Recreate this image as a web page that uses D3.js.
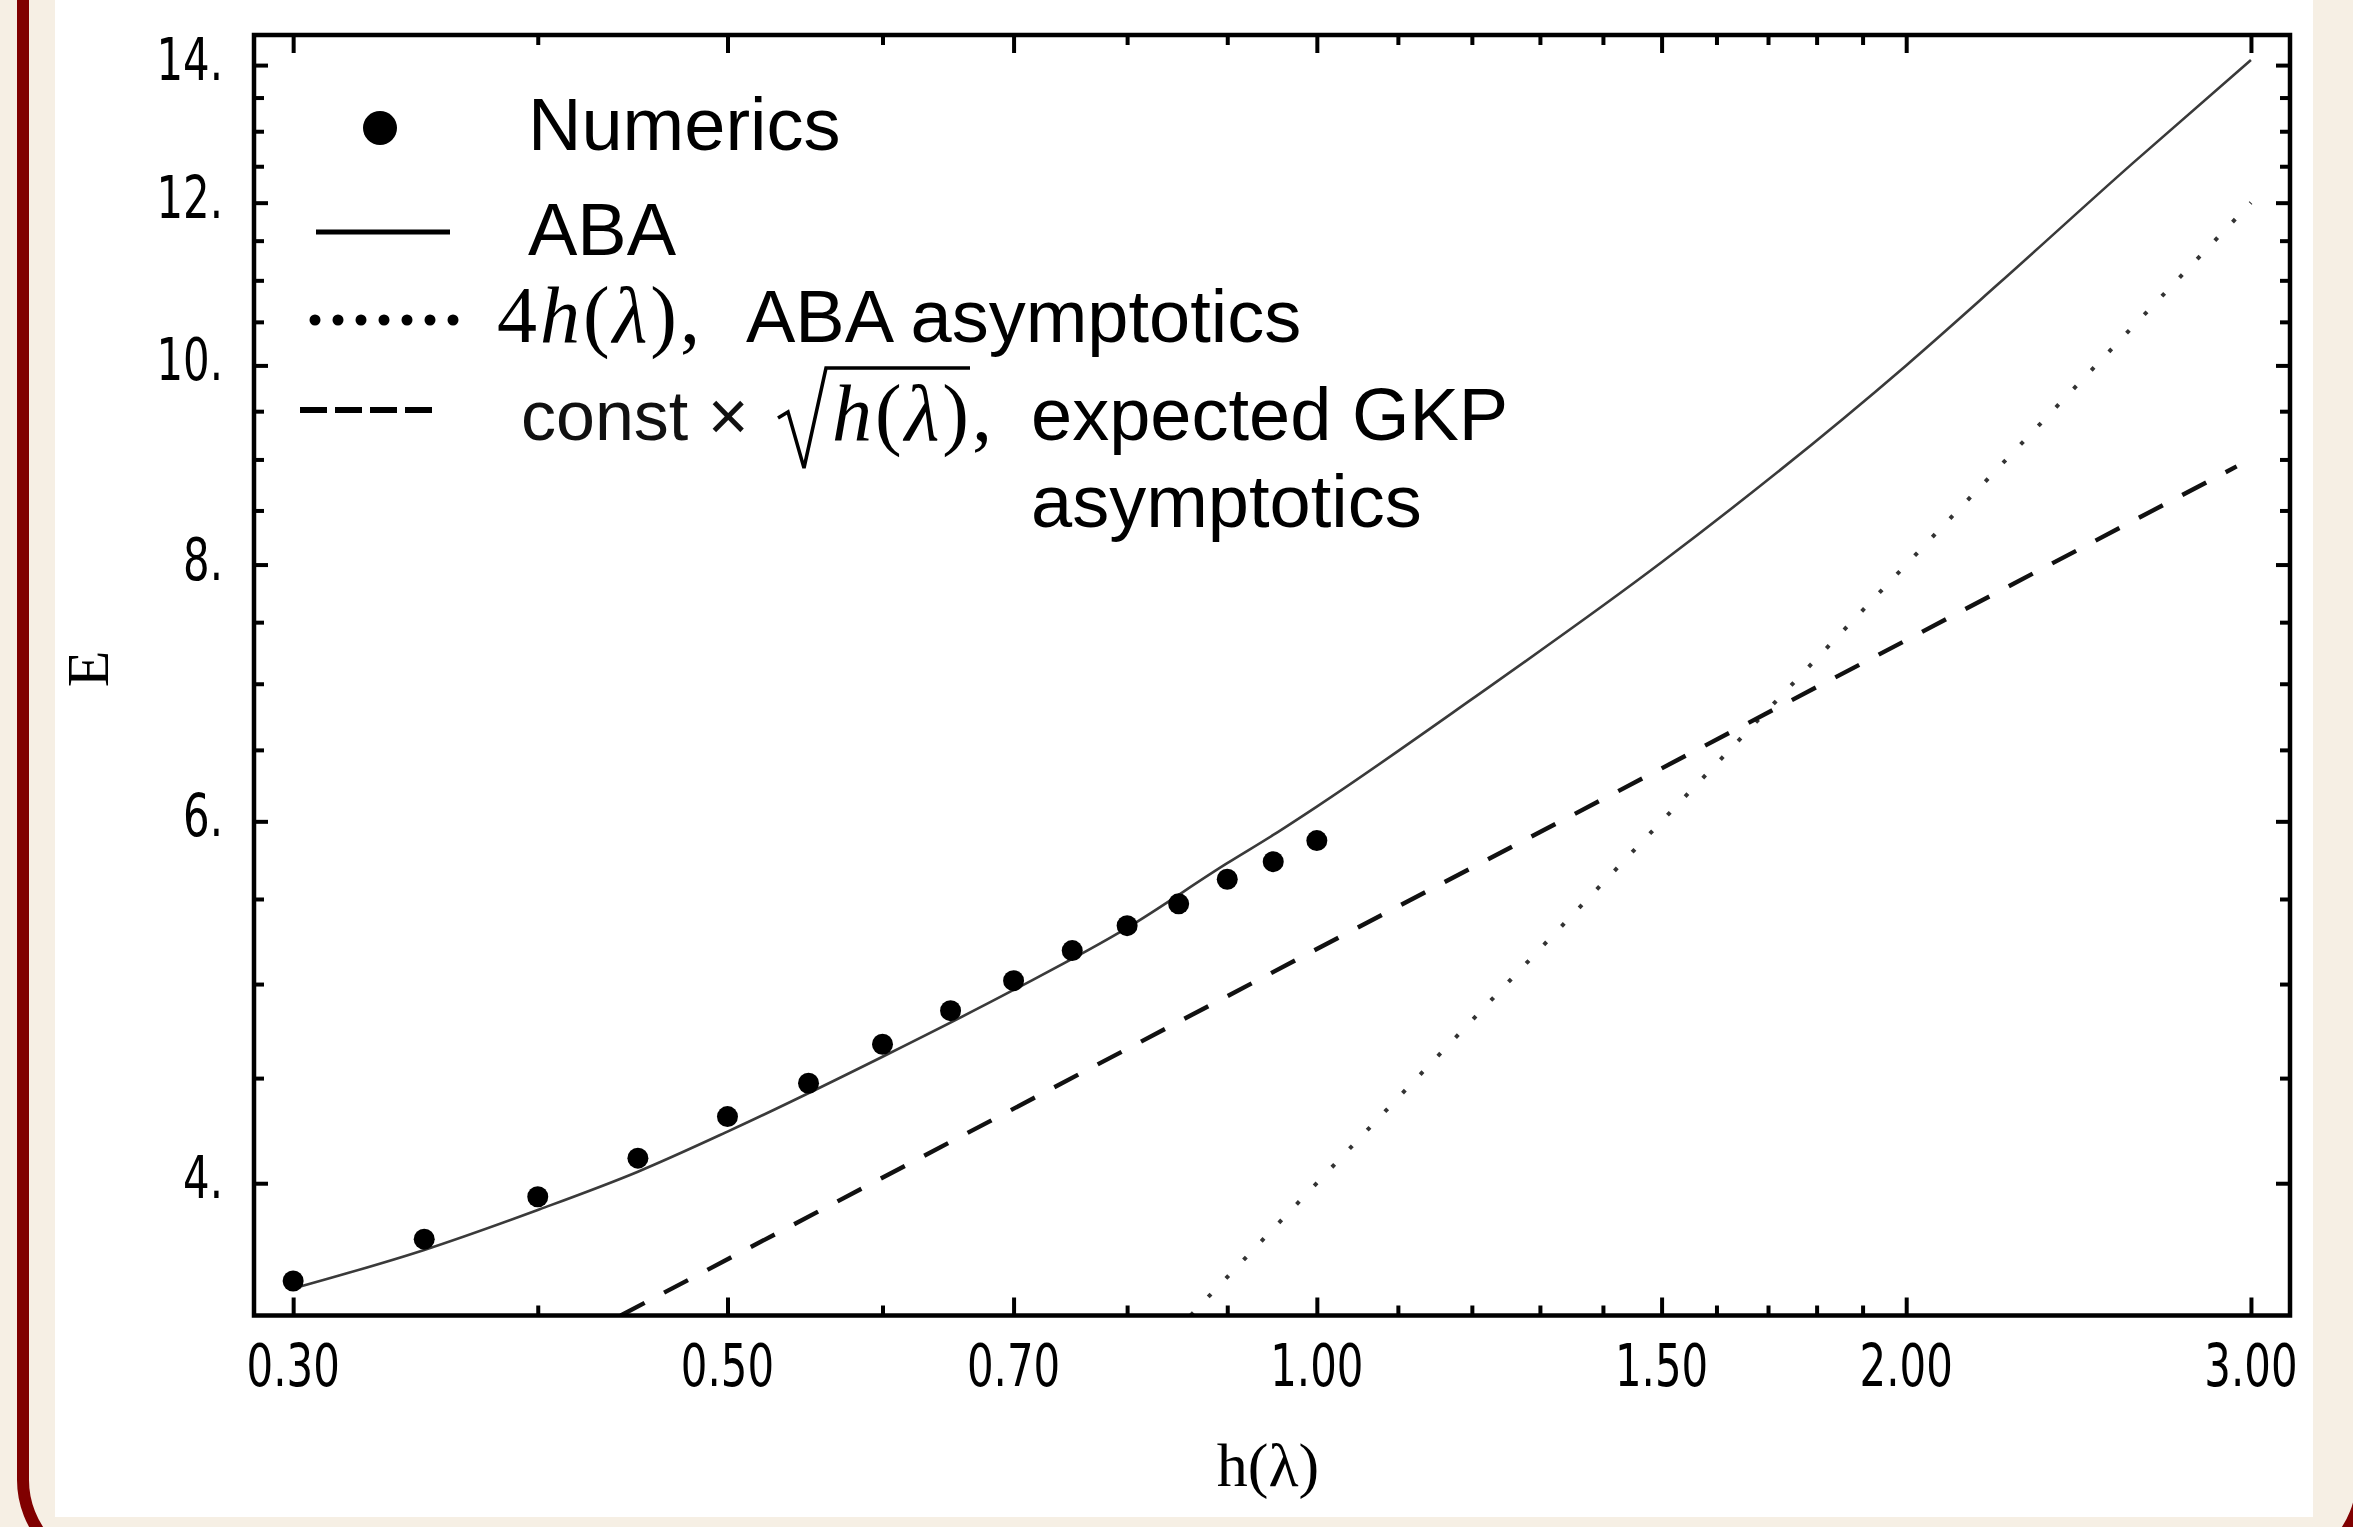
<!DOCTYPE html>
<html>
<head>
<meta charset="utf-8">
<script src="https://cdn.jsdelivr.net/npm/d3@7"></script>
<style>
  body { margin: 0; background: #f6efe4; }
  svg { display: block; }
</style>
</head>
<body>
<div id="chart"></div>
<script>
// numerics (dots)
var numericsX = [0.30, 0.35, 0.40, 0.45, 0.50, 0.55, 0.60, 0.65, 0.70, 0.75, 0.80, 0.85, 0.90, 0.95, 1.00];
var numericsE = [3.585, 3.757, 3.940, 4.114, 4.310, 4.474, 4.674, 4.853, 5.019, 5.191, 5.338, 5.470, 5.623, 5.735, 5.872];

// ABA curve (solid)
var abaX = [0.30, 0.35, 0.40, 0.45, 0.50, 0.60, 0.70, 0.80, 0.90, 0.95, 1.00, 1.20, 1.50, 2.00, 2.23, 2.61, 3.00];
var abaE = [3.555, 3.712, 3.882, 4.052, 4.238, 4.609, 4.967, 5.325, 5.725, 5.909, 6.10, 6.88, 8.02, 10.0, 10.96, 12.54, 14.08];

// 4h(lambda) asymptotics (dotted)
var asymX = [0.862, 1.50, 2.00, 3.00];
var asymE = [3.449, 6.00, 8.00, 12.0];

// const * sqrt(h) expected GKP asymptotics (dashed)
var gkpX = [0.441, 1.00, 2.00, 2.95];
var gkpE = [3.449, 5.20, 7.35, 8.93];

var xMajor = [0.3, 0.5, 0.7, 1.0, 1.5, 2.0, 3.0];
var xMajorLabels = ['0.30', '0.50', '0.70', '1.00', '1.50', '2.00', '3.00'];
var xMinor = [0.4, 0.6, 0.8, 0.9, 1.1, 1.2, 1.3, 1.4, 1.6, 1.7, 1.8, 1.9];
var yMajor = [4, 6, 8, 10, 12, 14];
var yMajorLabels = ['4.', '6.', '8.', '10.', '12.', '14.'];
var yMinor = [4.5, 5, 5.5, 6.5, 7, 7.5, 8.5, 9, 9.5, 10.5, 11, 11.5, 12.5, 13, 13.5];

var W = 2353, H = 1527;
var frame = { left: 254, right: 2290, top: 35, bottom: 1315.5 };

var svg = d3.select('#chart').append('svg')
    .attr('width', W)
    .attr('height', H);

// page background, border and white panel
svg.append('rect').attr('width', W).attr('height', H).attr('fill', '#f6efe4');
svg.append('rect')
    .attr('x', 23).attr('y', -200)
    .attr('width', 2362 - 23).attr('height', 1571 + 200)
    .attr('rx', 91).attr('ry', 91)
    .attr('fill', 'none')
    .attr('stroke', '#800000')
    .attr('stroke-width', 12);
svg.append('rect')
    .attr('x', 55).attr('y', 0)
    .attr('width', 2313 - 55).attr('height', 1517)
    .attr('fill', '#ffffff');

var x = d3.scaleLog().domain([0.2865, 3.141]).range([frame.left, frame.right]);
var y = d3.scaleLog().domain([3.449, 14.48]).range([frame.bottom, frame.top]);

svg.append('defs').append('clipPath').attr('id', 'plotclip')
    .append('rect')
    .attr('x', frame.left).attr('y', frame.top)
    .attr('width', frame.right - frame.left)
    .attr('height', frame.bottom - frame.top);

var plot = svg.append('g').attr('clip-path', 'url(#plotclip)');

var line = d3.line()
    .x(function (d) { return x(d[0]); })
    .y(function (d) { return y(d[1]); });

// ABA solid curve
plot.append('path')
    .datum(d3.zip(abaX, abaE))
    .attr('fill', 'none')
    .attr('stroke', '#3a3a3a')
    .attr('stroke-width', 2.6)
    .attr('d', line.curve(d3.curveMonotoneX));

// 4h dotted
plot.append('path')
    .datum(d3.zip(asymX, asymE))
    .attr('fill', 'none')
    .attr('stroke', '#333')
    .attr('stroke-width', 4)
    .attr('stroke-dasharray', '4 21.6')
    .attr('d', line.curve(d3.curveLinear));

// sqrt dashed
plot.append('path')
    .datum(d3.zip(gkpX, gkpE))
    .attr('fill', 'none')
    .attr('stroke', '#111')
    .attr('stroke-width', 4.4)
    .attr('stroke-dasharray', '27 22')
    .attr('d', line.curve(d3.curveLinear));

// numerics dots
svg.append('g')
    .selectAll('circle')
    .data(d3.zip(numericsX, numericsE))
    .enter()
    .append('circle')
    .attr('cx', function (d) { return x(d[0]); })
    .attr('cy', function (d) { return y(d[1]); })
    .attr('r', 10.5)
    .attr('fill', '#000');

// frame ticks (inward on all four sides)
function ticks(axis, values, size, transform) {
    svg.append('g')
        .attr('transform', transform)
        .call(axis.tickValues(values).tickSize(size).tickFormat(''))
        .call(function (g) {
            g.select('.domain').remove();
            g.selectAll('line').attr('stroke', '#000').attr('stroke-width', 4);
        });
}
ticks(d3.axisBottom(x), xMajor, -18, 'translate(0,' + frame.bottom + ')');
ticks(d3.axisBottom(x), xMinor, -10, 'translate(0,' + frame.bottom + ')');
ticks(d3.axisTop(x), xMajor, -18, 'translate(0,' + frame.top + ')');
ticks(d3.axisTop(x), xMinor, -10, 'translate(0,' + frame.top + ')');
ticks(d3.axisLeft(y), yMajor, -14, 'translate(' + frame.left + ',0)');
ticks(d3.axisLeft(y), yMinor, -10, 'translate(' + frame.left + ',0)');
ticks(d3.axisRight(y), yMajor, -14, 'translate(' + frame.right + ',0)');
ticks(d3.axisRight(y), yMinor, -10, 'translate(' + frame.right + ',0)');

svg.append('rect')
    .attr('x', frame.left).attr('y', frame.top)
    .attr('width', frame.right - frame.left)
    .attr('height', frame.bottom - frame.top)
    .attr('fill', 'none')
    .attr('stroke', '#000')
    .attr('stroke-width', 4.5);

// tick labels
var tickFont = "'DejaVu Sans', sans-serif";
svg.append('g')
    .selectAll('text')
    .data(xMajor)
    .enter()
    .append('text')
    .attr('transform', function (d) { return 'translate(' + x(d) + ',1386) scale(0.71,1)'; })
    .attr('text-anchor', 'middle')
    .attr('font-family', tickFont)
    .attr('font-size', 59)
    .text(function (d, i) { return xMajorLabels[i]; });

svg.append('g')
    .selectAll('text')
    .data(yMajor)
    .enter()
    .append('text')
    .attr('transform', function (d) { return 'translate(223,' + (y(d) + 15) + ') scale(0.71,1)'; })
    .attr('text-anchor', 'end')
    .attr('font-family', tickFont)
    .attr('font-size', 59)
    .text(function (d, i) { return yMajorLabels[i]; });

// axis titles
var serif = "'Liberation Serif', 'DejaVu Serif', serif";
svg.append('text')
    .attr('transform', 'translate(108,669) rotate(-90)')
    .attr('text-anchor', 'middle')
    .attr('font-family', serif)
    .attr('font-size', 60)
    .text('E');

svg.append('text')
    .attr('x', 1268).attr('y', 1486)
    .attr('text-anchor', 'middle')
    .attr('font-family', serif)
    .attr('font-size', 62)
    .text('h(λ)');

// legend
var sans = "'Liberation Sans', Arial, sans-serif";
var legend = svg.append('g');

legend.append('circle').attr('cx', 380).attr('cy', 128).attr('r', 17).attr('fill', '#000');
legend.append('text').attr('x', 528).attr('y', 150)
    .attr('font-family', sans).attr('font-size', 74).text('Numerics');

legend.append('line').attr('x1', 316).attr('x2', 450).attr('y1', 232).attr('y2', 232)
    .attr('stroke', '#000').attr('stroke-width', 5);
legend.append('text').attr('x', 528).attr('y', 255)
    .attr('font-family', sans).attr('font-size', 74).text('ABA');

legend.append('g').selectAll('circle')
    .data(d3.range(7))
    .enter()
    .append('circle')
    .attr('cx', function (i) { return 315 + i * 23; })
    .attr('cy', 320)
    .attr('r', 5.5)
    .attr('fill', '#000');
var row3 = legend.append('text').attr('x', 497).attr('y', 342)
    .attr('font-family', serif).attr('font-size', 80).attr('letter-spacing', 3);
row3.append('tspan').text('4');
row3.append('tspan').attr('font-style', 'italic').text('h');
row3.append('tspan').text('(');
row3.append('tspan').attr('font-style', 'italic').text('λ');
row3.append('tspan').text('),');
legend.append('text').attr('x', 746).attr('y', 342)
    .attr('font-family', sans).attr('font-size', 74).text('ABA asymptotics');

legend.append('line').attr('x1', 300).attr('x2', 432).attr('y1', 410).attr('y2', 410)
    .attr('stroke', '#000').attr('stroke-width', 6).attr('stroke-dasharray', '27 8');
var base4 = 440, rx0 = 778;
legend.append('text').attr('x', 521).attr('y', base4)
    .attr('font-family', sans).attr('font-size', 70).attr('fill', '#111').text('const ×');
legend.append('path')
    .attr('d', 'M' + rx0 + ',' + (base4 - 22) + 'L' + (rx0 + 10) + ',' + (base4 - 28) +
        'L' + (rx0 + 26) + ',' + (base4 + 28) + 'L' + (rx0 + 48) + ',' + (base4 - 72) +
        'H' + (rx0 + 192))
    .attr('fill', 'none').attr('stroke', '#000').attr('stroke-width', 3.5);
var row4 = legend.append('text').attr('x', 832).attr('y', base4)
    .attr('font-family', serif).attr('font-size', 80).attr('letter-spacing', 3);
row4.append('tspan').attr('font-style', 'italic').text('h');
row4.append('tspan').text('(');
row4.append('tspan').attr('font-style', 'italic').text('λ');
row4.append('tspan').text('),');
legend.append('text').attr('x', 1031).attr('y', base4)
    .attr('font-family', sans).attr('font-size', 74).text('expected GKP');
legend.append('text').attr('x', 1031).attr('y', 527)
    .attr('font-family', sans).attr('font-size', 74).text('asymptotics');
</script>
</body>
</html>
